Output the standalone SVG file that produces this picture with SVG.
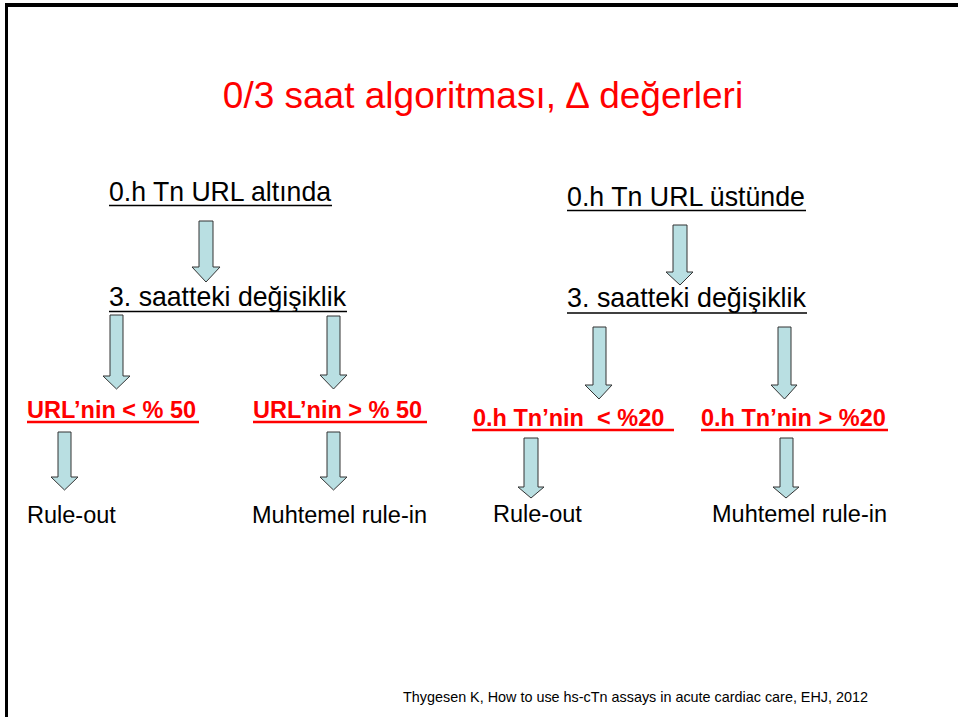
<svg xmlns="http://www.w3.org/2000/svg" width="958" height="717" viewBox="0 0 958 717">
  <style>
    text { font-family: "Liberation Sans", Arial, sans-serif; }
    .title { font-size: 37px; fill: #ff0000; }
    .head { font-size: 28.5px; fill: #000; }
    .crit { font-size: 23.5px; font-weight: bold; fill: #ff0000; }
    .out { font-size: 23.5px; fill: #000; }
    .cite { font-size: 14.4px; fill: #000; }
    .ul { stroke: #000; stroke-width: 1.6; }
    .ulr { stroke: #ff0000; stroke-width: 2.4; }
    .arrow { fill: #b9dfe2; stroke: #333; stroke-width: 1; stroke-linejoin: miter; }
  </style>

  <!-- slide frame -->
  <rect x="0" y="0" width="958" height="717" fill="#fff"/>
  <rect x="5" y="3" width="953" height="4" fill="#000"/>
  <rect x="5" y="3" width="3" height="714" fill="#000"/>

  <g id="title">
    <text class="title" x="483" y="108" text-anchor="middle">0/3 saat algoritması, ∆ değerleri</text>
  </g>

  <!-- left branch -->
  <g id="left-start">
    <text class="head" x="109" y="201" textLength="222" lengthAdjust="spacingAndGlyphs">0.h Tn URL altında</text>
    <line class="ul" x1="109" y1="205.5" x2="332" y2="205.5"/>
  </g>
  <g id="left-change">
    <text class="head" x="109" y="306" textLength="237" lengthAdjust="spacingAndGlyphs">3. saatteki değişiklik</text>
    <line class="ul" x1="109" y1="311.5" x2="347" y2="311.5"/>
  </g>
  <g id="left-low">
    <text class="crit" x="27" y="418" xml:space="preserve">URL’nin &lt; % 50</text>
    <line class="ulr" x1="27" y1="422" x2="199" y2="422"/>
  </g>
  <g id="left-high">
    <text class="crit" x="253" y="418" xml:space="preserve">URL’nin &gt; % 50</text>
    <line class="ulr" x1="253" y1="422" x2="427" y2="422"/>
  </g>
  <g id="left-ruleout">
    <text class="out" x="27" y="523">Rule-out</text>
  </g>
  <g id="left-rulein">
    <text class="out" x="252" y="523">Muhtemel rule-in</text>
  </g>

  <!-- right branch -->
  <g id="right-start">
    <text class="head" x="567" y="206" textLength="238" lengthAdjust="spacingAndGlyphs">0.h Tn URL üstünde</text>
    <line class="ul" x1="567" y1="210.5" x2="806" y2="210.5"/>
  </g>
  <g id="right-change">
    <text class="head" x="567" y="307" textLength="239" lengthAdjust="spacingAndGlyphs">3. saatteki değişiklik</text>
    <line class="ul" x1="567" y1="313" x2="807" y2="313"/>
  </g>
  <g id="right-low">
    <text class="crit" x="473" y="426" xml:space="preserve">0.h Tn’nin  &lt; %20 </text>
    <line class="ulr" x1="472" y1="430" x2="674" y2="430"/>
  </g>
  <g id="right-high">
    <text class="crit" x="701" y="426" xml:space="preserve">0.h Tn’nin &gt; %20</text>
    <line class="ulr" x1="701" y1="430" x2="888" y2="430"/>
  </g>
  <g id="right-ruleout">
    <text class="out" x="493" y="522">Rule-out</text>
  </g>
  <g id="right-rulein">
    <text class="out" x="712" y="522">Muhtemel rule-in</text>
  </g>

  <!-- block arrows -->
  <g id="connectors">
    <polygon class="arrow" points="199,221 213,221 213,267 220,267 206,282 192,267 199,267"/>
    <polygon class="arrow" points="110,315 123,315 123,376 130,376 116.5,389 103,376 110,376"/>
    <polygon class="arrow" points="327,316 340,316 340,375 347,375 333.5,389 320,375 327,375"/>
    <polygon class="arrow" points="58,432 71,432 71,477 78,477 64.5,490 51,477 58,477"/>
    <polygon class="arrow" points="327,432 340,432 340,477 347,477 333.5,490 320,477 327,477"/>
    <polygon class="arrow" points="673,225 687,225 687,272 693,272 680,285 666,272 673,272"/>
    <polygon class="arrow" points="593,327 606,327 606,385 612,385 599,399 585,385 593,385"/>
    <polygon class="arrow" points="778,327 791,327 791,385 797,385 784.5,399 771,385 778,385"/>
    <polygon class="arrow" points="524,438 538,438 538,487 544,487 531,498 518,487 524,487"/>
    <polygon class="arrow" points="780,438 793,438 793,487 799,487 786,498 773,487 780,487"/>
  </g>

  <g id="citation">
    <text class="cite" x="403" y="702" textLength="465" lengthAdjust="spacingAndGlyphs">Thygesen K, How to use hs-cTn assays in acute cardiac care, EHJ, 2012</text>
  </g>
</svg>
